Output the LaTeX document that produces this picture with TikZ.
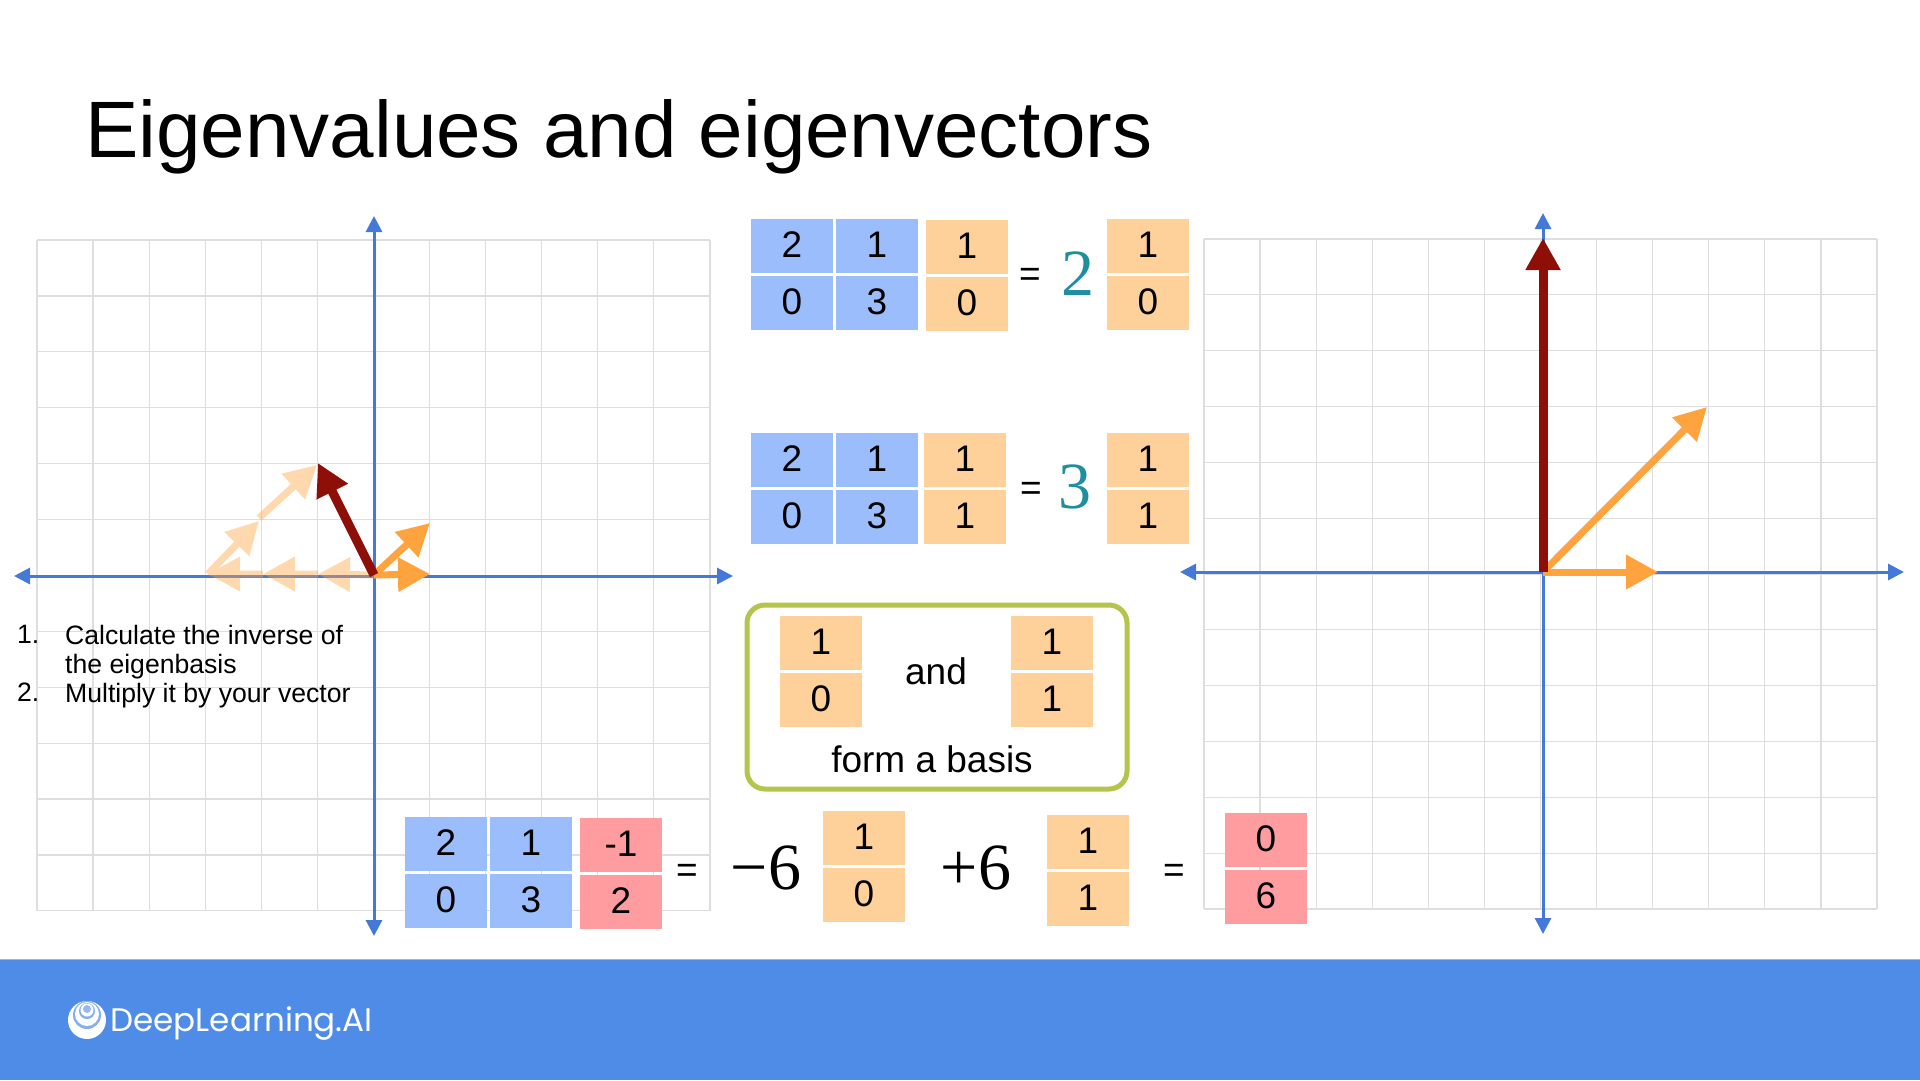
\documentclass[tikz,border=0pt]{standalone}
\usepackage{fontspec}
\setmainfont{Liberation Sans}
\newfontfamily\factorfont{Liberation Serif}
\newfontfamily\logofont{Poppins}
\usepackage{xcolor}
\usetikzlibrary{arrows.meta,positioning}
\definecolor{cellblue}{HTML}{9CBDFB}
\definecolor{cellorange}{HTML}{FFD19A}
\definecolor{cellred}{HTML}{FF9C9F}
\definecolor{axisblue}{HTML}{4579D8}
\definecolor{vecorange}{HTML}{FFA33F}
\definecolor{vecred}{HTML}{8E0F08}
\definecolor{basisgreen}{HTML}{B5C44A}
\definecolor{factorteal}{HTML}{1F8F9F}
\definecolor{bannerblue}{HTML}{4F8CE7}

\begin{document}
\begin{tikzpicture}[x=1pt, y=-1pt]
        \tikzset{
            cell/.style={rectangle, inner sep=0pt, outer sep=0pt, minimum width=82pt, minimum height=54pt, align=center, text height=27pt, text depth=4pt, font=\fontsize{37}{37}\selectfont},
            bluecell/.style={cell, fill=cellblue},
            orangecell/.style={cell, fill=cellorange},
            redcell/.style={cell, fill=cellred},
            equals/.style={font=\fontsize{37}{37}\selectfont, inner sep=0pt},
            factor/.style={font=\factorfont\fontsize{66}{66}\selectfont, inner sep=0pt},
            caption/.style={font=\fontsize{37}{37}\selectfont, inner sep=0pt},
            listtext/.style={font=\fontsize{26.6}{29}\selectfont, inner sep=0pt, anchor=north west, align=left},
            gridline/.style={draw=black!13, line width=1.2pt},
            axis/.style={draw=axisblue, line width=3pt, {Triangle[length=16pt,width=16pt]}-{Triangle[length=16pt,width=16pt]}},
            vecbase/.style={-{Triangle[length=32pt,width=33pt]}, line width=7pt},
            vecmain/.style={vecbase, draw=vecorange, fill=vecorange},
            vecimage/.style={vecbase, line width=9pt, draw=vecred, fill=vecred},
            fadedgroup/.style={transparency group, opacity=0.42}
        }
        \useasboundingbox (0,0) rectangle (1920,1080);
        \fill [white] (0,0) rectangle (1920,1080);

        % Title
        \node [anchor=base west, inner sep=0pt, font=\fontsize{80}{80}\selectfont] (title) at (85,157) {Eigenvalues and eigenvectors};

        % Grids
        \foreach \i in {0,...,12} {
            \draw [gridline] ({37+\i*56.08},240) -- ({37+\i*56.08},911);
            \draw [gridline] (37,{240+\i*55.9}) -- (710,{240+\i*55.9});
            \draw [gridline] ({1204+\i*56.08},239) -- ({1204+\i*56.08},909);
            \draw [gridline] (1204,{239+\i*55.83}) -- (1877,{239+\i*55.83});
        }

        % Axes
        \coordinate (l_west) at (14,576);
        \coordinate (l_east) at (733,576);
        \coordinate (l_north) at (374,216);
        \coordinate (l_south) at (374,936);
        \coordinate (r_west) at (1180,572);
        \coordinate (r_east) at (1904,572);
        \coordinate (r_north) at (1543,213);
        \coordinate (r_south) at (1543,934);
        \draw [axis] (l_west) -- (l_east);
        \draw [axis] (l_south) -- (l_north);
        \draw [axis] (r_west) -- (r_east);
        \draw [axis] (r_south) -- (r_north);

        % Left vectors
        \coordinate (l_o) at (374,575);
        \coordinate (l_a) at (318,574);
        \coordinate (l_b) at (263,574);
        \coordinate (l_c) at (208,574);
        \coordinate (l_d) at (259,521);
        \coordinate (l_e) at (259,518);
        \coordinate (l_f) at (317,465);
        \coordinate (l_u) at (430,523);
        \coordinate (l_v) at (430,574);
        \coordinate (l_w) at (318,463);
        \begin{scope}[fadedgroup]
            \draw [vecmain] (l_o) -- (l_a);
            \draw [vecmain] (l_a) -- (l_b);
            \draw [vecmain] (l_b) -- (l_c);
            \draw [vecmain] (l_c) -- (l_d);
            \draw [vecmain] (l_e) -- (l_f);
        \end{scope}
        \draw [vecmain] (l_o) -- (l_u);
        \draw [vecmain] (l_o) -- (l_v);
        \draw [vecimage] (l_o) -- (l_w);

        % Right vectors
        \coordinate (r_o) at (1543,572);
        \coordinate (r_u) at (1707,407);
        \coordinate (r_v) at (1658,572);
        \coordinate (r_w) at (1543,238);
        \draw [vecmain] (r_o) -- (r_u);
        \draw [vecmain] (r_o) -- (r_v);
        \draw [vecimage] (r_o) -- (r_w);

        % List
        \node [listtext] (num1) at (17,625) {1.};
        \node [listtext] (item1) at (65,625) {Calculate the inverse of\\the eigenbasis};
        \node [listtext] (num2) at (17,683) {2.};
        \node [listtext] (item2) at (65,683) {Multiply it by your vector};

        % First equation
        \node [bluecell, anchor=north west] (a11) at (751,219) {2};
        \node [bluecell, right=3pt of a11] (a12) {1};
        \node [bluecell, below=3pt of a11] (a21) {0};
        \node [bluecell, below=3pt of a12] (a22) {3};
        \node [orangecell, anchor=north west] (b1) at (926,220) {1};
        \node [orangecell, below=3pt of b1] (b2) {0};
        \node [equals] (eq1) at (1030,277) {=};
        \node [factor, text=factorteal] (two) at (1078,274) {2};
        \node [orangecell, anchor=north west] (c1) at (1107,219) {1};
        \node [orangecell, below=3pt of c1] (c2) {0};

        % Second equation
        \node [bluecell, anchor=north west] (d11) at (751,433) {2};
        \node [bluecell, right=3pt of d11] (d12) {1};
        \node [bluecell, below=3pt of d11] (d21) {0};
        \node [bluecell, below=3pt of d12] (d22) {3};
        \node [orangecell, anchor=north west] (e1) at (924,433) {1};
        \node [orangecell, below=3pt of e1] (e2) {1};
        \node [equals] (eq2) at (1031,491) {=};
        \node [factor, text=factorteal] (three) at (1075,487) {3};
        \node [orangecell, anchor=north west] (f1) at (1107,433) {1};
        \node [orangecell, below=3pt of f1] (f2) {1};

        % Basis box
        \draw [draw=basisgreen, line width=5pt, rounded corners=18pt] (747,605) rectangle (1127,789);
        \node [orangecell, anchor=north west] (g1) at (780,616) {1};
        \node [orangecell, below=3pt of g1] (g2) {0};
        \node [orangecell, anchor=north west] (h1) at (1011,616) {1};
        \node [orangecell, below=3pt of h1] (h2) {1};
        \node [caption] (and) at (936,671) {and};
        \node [caption] (form) at (932,759) {form a basis};

        % Third equation
        \node [bluecell, anchor=north west] (k11) at (405,817) {2};
        \node [bluecell, right=3pt of k11] (k12) {1};
        \node [bluecell, below=3pt of k11] (k21) {0};
        \node [bluecell, below=3pt of k12] (k22) {3};
        \node [redcell, anchor=north west] (m1) at (580,818) {-1};
        \node [redcell, below=3pt of m1] (m2) {2};
        \node [equals] (eq3) at (687,873) {=};
        \node [factor] (minus) at (766,868) {−6};
        \node [orangecell, anchor=north west] (n1) at (823,811) {1};
        \node [orangecell, below=3pt of n1] (n2) {0};
        \node [factor] (plus) at (976,868) {+6};
        \node [orangecell, anchor=north west] (p1) at (1047,815) {1};
        \node [orangecell, below=3pt of p1] (p2) {1};
        \node [equals] (eq4) at (1174,873) {=};
        \node [redcell, anchor=north west] (q1) at (1225,813) {0};
        \node [redcell, below=3pt of q1] (q2) {6};

        % Banner
        \fill [bannerblue] (0,959) rectangle (1920,1080);
        \draw [black!30, line width=1pt] (0,959) -- (1920,959);
        \fill [white] (87,1020) circle (19);
        \fill [bannerblue!70!white] (87,1015) circle (14);
        \fill [white] (87,1014) circle (12);
        \fill [bannerblue!70!white] (87,1011) circle (8);
        \fill [white] (87,1010) circle (6.5);
        \fill [bannerblue!60!white] (87,1009) circle (4);
        \node [anchor=base west, inner sep=0pt, text=white, font=\logofont\fontsize{32.6}{33}\selectfont] (logo) at (110,1031) {DeepLearning.AI};
    \end{tikzpicture}
\end{document}
